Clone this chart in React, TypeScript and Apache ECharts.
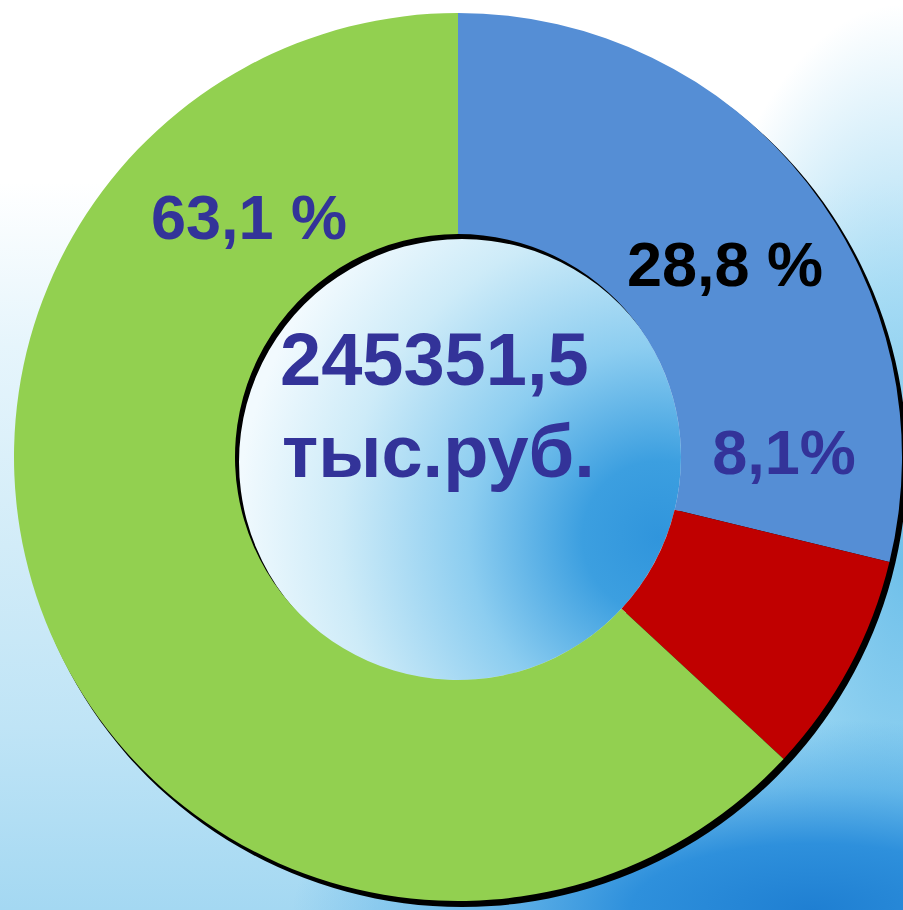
import React, { useEffect, useRef } from "react";
import * as echarts from "echarts";

// ---- data ----
const categories = ["Сегмент 1", "Сегмент 2", "Сегмент 3"];
const shares = [28.8, 8.1, 63.1];
const shareLabels = ["28,8 %", "8,1%", "63,1 %"];
const totalLines = ["245351,5", "тыс.руб."];
const colors = ["#558ED5", "#C00000", "#92D050"];
const labelColors = ["#000000", "#333399", "#333399"];

// ---- layout ----
const CX = 458;
const CY = 457;
const R = 444;
const R0 = 223;
const labelPos = [
  [725, 264],
  [784, 452],
  [249, 217],
];
const FONT = "'Liberation Sans', Arial, Helvetica, sans-serif";

export default function App() {
  const ref = useRef<HTMLDivElement>(null);

  useEffect(() => {
    if (!ref.current) return;
    const chart = echarts.init(ref.current, undefined, { renderer: "svg" });
    chart.setOption({
      animation: false,
      backgroundColor: "transparent",
      graphic: [
        {
          type: "circle",
          z: 0,
          silent: true,
          shape: { cx: CX, cy: CY, r: R0 },
          style: {
            fill: new echarts.graphic.RadialGradient(0.95, 0.68, 0.95, [
              { offset: 0, color: "#3095dc" },
              { offset: 0.18, color: "#3c9fe0" },
              { offset: 0.45, color: "#8ccdf0" },
              { offset: 0.75, color: "#cdebf8" },
              { offset: 1, color: "#f2fafe" },
            ]),
          },
        },
        {
          type: "ring",
          z: 1,
          silent: true,
          shape: { cx: CX + 4, cy: CY + 5, r: R + 1, r0: R0 },
          style: { fill: "#000000" },
        },
        {
          type: "text",
          z: 100,
          silent: true,
          x: 280,
          y: 359,
          style: {
            text: totalLines[0],
            fontSize: 74,
            fontWeight: "bold",
            fontFamily: FONT,
            fill: "#333399",
            align: "left",
            verticalAlign: "middle",
          },
        },
        {
          type: "text",
          z: 100,
          silent: true,
          x: 282,
          y: 451,
          style: {
            text: totalLines[1],
            fontSize: 74,
            fontWeight: "bold",
            fontFamily: FONT,
            fill: "#333399",
            align: "left",
            verticalAlign: "middle",
          },
        },
      ],
      series: [
        {
          type: "pie",
          z: 2,
          silent: true,
          center: [CX, CY],
          radius: [R0, R],
          startAngle: 90,
          clockwise: true,
          avoidLabelOverlap: false,
          emphasis: { disabled: true },
          itemStyle: { borderWidth: 0 },
          label: {
            show: true,
            position: "inside",
            formatter: (p: any) => shareLabels[p.dataIndex],
            fontSize: 63,
            fontWeight: "bold",
            fontFamily: FONT,
          },
          labelLine: { show: false },
          labelLayout: (p: any) => ({
            x: labelPos[p.dataIndex][0],
            y: labelPos[p.dataIndex][1],
            align: "center",
            verticalAlign: "middle",
          }),
          data: shares.map((v, i) => ({
            value: v,
            name: categories[i],
            itemStyle: { color: colors[i] },
            label: { color: labelColors[i] },
          })),
        },
      ],
    });
    return () => chart.dispose();
  }, []);

  return (
    <div
      ref={ref}
      style={{
        position: "absolute",
        left: 0,
        top: 0,
        width: 903,
        height: 910,
        background: [
          "radial-gradient(ellipse 520px 190px at 90% 100%, #1f7fd2 0%, #2e90dc 35%, rgba(70,165,228,0.6) 65%, rgba(120,200,240,0) 100%)",
          "radial-gradient(ellipse 240px 560px at 100% 62%, #6fc0ea 0%, rgba(130,205,240,0.65) 50%, rgba(200,235,250,0) 100%)",
          "linear-gradient(to bottom, #ffffff 0%, #ffffff 20%, #e6f5fc 38%, #d2ecf8 60%, #bfe4f6 80%, #a4d8f2 100%)",
        ].join(","),
      }}
    />
  );
}
